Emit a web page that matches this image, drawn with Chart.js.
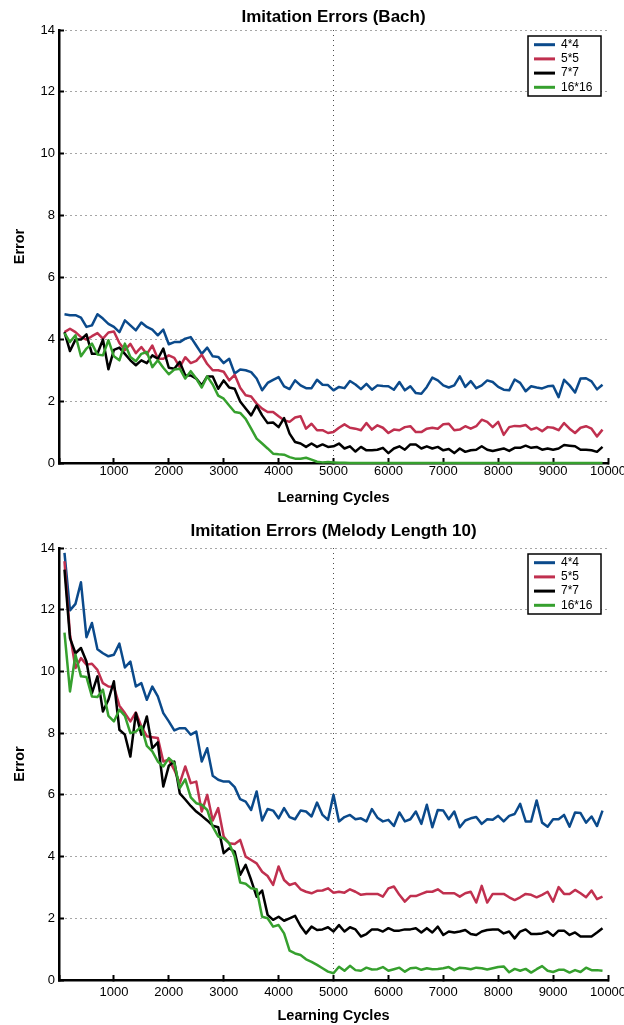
<!DOCTYPE html>
<html>
<head>
<meta charset="utf-8">
<script src="https://cdn.jsdelivr.net/npm/chart.js@4.4.1/dist/chart.umd.min.js"></script>
<style>
  body { margin: 0; background: #fff; }
  .panel { position: relative; width: 624px; }
  #bachBox { height: 512px; }
  #melodyBox { height: 513px; }
</style>
</head>
<body>
<div class="panel" id="bachBox"><canvas id="bach"></canvas></div>
<div class="panel" id="melodyBox"><canvas id="melody"></canvas></div>
<script>
const FONT = "'Liberation Sans', Arial, sans-serif";

// learning cycles at which the error was sampled
const cycles = [
  100, 200, 300, 400, 500, 600, 700, 800, 900, 1000,
  1100, 1200, 1300, 1400, 1500, 1600, 1700, 1800, 1900, 2000,
  2100, 2200, 2300, 2400, 2500, 2600, 2700, 2800, 2900, 3000,
  3100, 3200, 3300, 3400, 3500, 3600, 3700, 3800, 3900, 4000,
  4100, 4200, 4300, 4400, 4500, 4600, 4700, 4800, 4900, 5000,
  5100, 5200, 5300, 5400, 5500, 5600, 5700, 5800, 5900, 6000,
  6100, 6200, 6300, 6400, 6500, 6600, 6700, 6800, 6900, 7000,
  7100, 7200, 7300, 7400, 7500, 7600, 7700, 7800, 7900, 8000,
  8100, 8200, 8300, 8400, 8500, 8600, 8700, 8800, 8900, 9000,
  9100, 9200, 9300, 9400, 9500, 9600, 9700, 9800, 9900
];

const sizes = ["4*4", "5*5", "7*7", "16*16"];
const colors = ["#0b4a8b", "#c0304f", "#000000", "#36a02e"];

const xTicks = [0, 1000, 2000, 3000, 4000, 5000, 6000, 7000, 8000, 9000, 10000];
const yTicks = [0, 2, 4, 6, 8, 10, 12, 14];

// Imitation errors, Bach
const bach4 = [
  4.81, 4.78, 4.78, 4.70, 4.40, 4.45, 4.81, 4.67, 4.50, 4.40,
  4.23, 4.61, 4.45, 4.29, 4.54, 4.40, 4.31, 4.13, 4.31, 3.84,
  3.91, 3.91, 4.02, 4.07, 3.80, 3.53, 3.73, 3.45, 3.43, 3.23,
  3.37, 2.89, 3.02, 3.00, 2.94, 2.73, 2.35, 2.59, 2.69, 2.78,
  2.48, 2.39, 2.67, 2.51, 2.42, 2.42, 2.69, 2.53, 2.52, 2.35,
  2.46, 2.42, 2.65, 2.54, 2.39, 2.56, 2.37, 2.51, 2.49, 2.48,
  2.37, 2.62, 2.35, 2.48, 2.26, 2.24, 2.46, 2.76, 2.67, 2.51,
  2.44, 2.51, 2.80, 2.46, 2.65, 2.42, 2.51, 2.67, 2.62, 2.46,
  2.37, 2.35, 2.70, 2.59, 2.32, 2.48, 2.44, 2.41, 2.48, 2.50,
  2.13, 2.69, 2.51, 2.28, 2.73, 2.74, 2.64, 2.38, 2.53
];
const bach5 = [
  4.23, 4.34, 4.23, 4.07, 3.99, 4.10, 4.20, 4.02, 4.22, 4.25,
  3.88, 3.65, 3.85, 3.55, 3.75, 3.52, 3.80, 3.37, 3.37, 3.48,
  3.40, 3.10, 3.42, 3.23, 3.30, 3.50, 3.20, 3.00, 3.00, 2.95,
  2.67, 2.85, 2.43, 2.19, 2.15, 1.92, 1.76, 1.65, 1.65, 1.51,
  1.38, 1.33, 1.47, 1.51, 1.11, 1.27, 1.06, 1.06, 0.97, 1.00,
  1.14, 1.25, 1.14, 1.11, 1.06, 1.29, 1.08, 1.22, 1.14, 0.97,
  1.08, 1.06, 1.16, 1.19, 1.00, 1.00, 1.11, 1.14, 1.11, 1.25,
  1.27, 1.06, 1.08, 1.19, 1.11, 1.19, 1.40, 1.33, 1.16, 1.33,
  0.91, 1.16, 1.20, 1.19, 1.23, 1.08, 1.14, 1.03, 1.16, 1.14,
  1.06, 1.29, 1.11, 0.97, 1.14, 1.19, 1.11, 0.86, 1.08
];
const bach7 = [
  4.23, 3.62, 3.99, 3.99, 4.16, 3.53, 3.53, 3.99, 3.03, 3.66,
  3.73, 3.53, 3.32, 3.16, 3.32, 3.23, 3.48, 3.37, 3.70, 3.08,
  3.05, 3.27, 2.83, 2.83, 2.73, 2.51, 2.80, 2.80, 2.40, 2.67,
  2.44, 2.40, 1.99, 1.76, 1.54, 1.86, 1.54, 1.29, 1.31, 1.16,
  1.45, 0.95, 0.68, 0.63, 0.52, 0.63, 0.52, 0.60, 0.52, 0.54,
  0.63, 0.47, 0.54, 0.37, 0.52, 0.41, 0.41, 0.43, 0.49, 0.32,
  0.47, 0.54, 0.43, 0.60, 0.60, 0.47, 0.54, 0.47, 0.52, 0.41,
  0.45, 0.32, 0.47, 0.36, 0.41, 0.43, 0.54, 0.43, 0.39, 0.43,
  0.47, 0.39, 0.49, 0.49, 0.56, 0.49, 0.52, 0.43, 0.47, 0.43,
  0.47, 0.58, 0.56, 0.54, 0.43, 0.43, 0.41, 0.36, 0.52
];
const bach16 = [
  4.20, 3.91, 4.13, 3.45, 3.70, 3.86, 3.51, 3.48, 3.97, 3.45,
  3.32, 3.86, 3.43, 3.29, 3.53, 3.59, 3.10, 3.32, 3.08, 2.87,
  3.02, 3.05, 2.73, 2.97, 2.73, 2.44, 2.80, 2.54, 2.18, 2.08,
  1.86, 1.65, 1.62, 1.43, 1.11, 0.79, 0.63, 0.47, 0.30, 0.28,
  0.27, 0.19, 0.14, 0.14, 0.17, 0.11, 0.04, 0.02, 0.03, 0.02,
  0.01, 0.01, 0, 0, 0, 0, 0, 0, 0, 0,
  0, 0, 0, 0, 0, 0, 0, 0, 0, 0,
  0, 0, 0, 0, 0, 0, 0, 0, 0, 0,
  0, 0, 0, 0, 0, 0, 0, 0, 0, 0,
  0, 0, 0, 0, 0, 0, 0, 0, 0
];

// Imitation errors, melody length 10
const melody4 = [
  13.84, 11.98, 12.19, 12.89, 11.11, 11.57, 10.72, 10.59, 10.49, 10.54,
  10.90, 10.13, 10.32, 9.51, 9.62, 9.08, 9.51, 9.19, 8.65, 8.38,
  8.09, 8.16, 8.16, 7.95, 8.05, 7.08, 7.51, 6.62, 6.49, 6.43,
  6.43, 6.25, 5.86, 5.78, 5.51, 6.11, 5.17, 5.54, 5.49, 5.24,
  5.57, 5.28, 5.21, 5.49, 5.46, 5.30, 5.75, 5.35, 5.19, 6.00,
  5.14, 5.28, 5.35, 5.21, 5.24, 5.14, 5.54, 5.26, 5.14, 5.19,
  4.99, 5.43, 5.14, 5.21, 5.46, 5.06, 5.68, 4.95, 5.51, 5.49,
  5.21, 5.46, 4.95, 5.17, 5.24, 5.28, 5.06, 5.21, 5.19, 5.32,
  5.14, 5.32, 5.38, 5.71, 5.14, 5.14, 5.82, 5.10, 4.97, 5.21,
  5.21, 5.35, 4.97, 5.43, 5.41, 5.10, 5.30, 4.99, 5.49
];
const melody5 = [
  13.57, 11.20, 10.11, 10.43, 10.22, 10.25, 10.05, 9.62, 9.51, 9.50,
  8.89, 8.65, 8.38, 8.67, 8.22, 7.90, 7.87, 7.84, 7.08, 7.14,
  6.81, 6.38, 6.92, 6.38, 6.43, 5.46, 6.00, 5.17, 5.57, 4.65,
  4.43, 4.41, 4.54, 4.00, 3.89, 3.78, 3.51, 3.37, 3.08, 3.68,
  3.24, 3.08, 3.14, 2.94, 2.86, 2.81, 2.89, 2.90, 2.97, 2.83,
  2.86, 2.83, 2.94, 2.86, 2.76, 2.79, 2.79, 2.79, 2.70, 2.97,
  3.03, 2.76, 2.54, 2.72, 2.72, 2.79, 2.86, 2.86, 2.94, 2.81,
  2.81, 2.81, 2.70, 2.81, 2.86, 2.51, 3.05, 2.51, 2.79, 2.79,
  2.79, 2.68, 2.59, 2.68, 2.79, 2.76, 2.68, 2.76, 2.86, 2.54,
  3.01, 2.79, 2.79, 2.92, 2.81, 2.68, 2.90, 2.62, 2.70
];
const melody7 = [
  13.30, 11.08, 10.59, 10.76, 10.32, 9.30, 9.84, 8.70, 9.08, 9.68,
  8.11, 7.95, 7.24, 8.65, 7.95, 8.54, 7.51, 7.70, 6.27, 6.94,
  7.08, 6.05, 5.85, 5.64, 5.46, 5.32, 5.17, 5.00, 4.95, 4.11,
  4.27, 4.16, 3.41, 3.73, 3.24, 2.70, 2.90, 2.11, 1.95, 2.05,
  1.92, 2.00, 2.08, 1.75, 1.51, 1.73, 1.62, 1.64, 1.71, 1.57,
  1.78, 1.57, 1.71, 1.64, 1.41, 1.49, 1.64, 1.64, 1.57, 1.68,
  1.60, 1.60, 1.64, 1.64, 1.68, 1.54, 1.68, 1.54, 1.73, 1.46,
  1.57, 1.54, 1.57, 1.62, 1.49, 1.46, 1.57, 1.62, 1.64, 1.64,
  1.51, 1.57, 1.35, 1.57, 1.64, 1.49, 1.49, 1.51, 1.57, 1.43,
  1.60, 1.60, 1.46, 1.54, 1.41, 1.41, 1.41, 1.54, 1.68
];
const melody16 = [
  11.26, 9.35, 10.54, 9.84, 9.82, 9.19, 9.17, 9.41, 8.56, 8.38,
  8.76, 8.56, 8.00, 8.05, 8.22, 7.59, 7.41, 7.08, 6.92, 7.19,
  7.03, 6.22, 6.50, 5.92, 5.73, 5.68, 5.51, 4.97, 4.65, 4.59,
  4.43, 4.00, 3.16, 3.12, 2.97, 2.94, 2.05, 2.00, 1.73, 1.78,
  1.51, 0.95, 0.86, 0.81, 0.67, 0.59, 0.49, 0.38, 0.27, 0.22,
  0.43, 0.30, 0.46, 0.32, 0.30, 0.40, 0.34, 0.35, 0.42, 0.30,
  0.35, 0.40, 0.27, 0.38, 0.40, 0.33, 0.38, 0.35, 0.36, 0.38,
  0.42, 0.32, 0.40, 0.38, 0.35, 0.40, 0.38, 0.34, 0.38, 0.42,
  0.44, 0.25, 0.36, 0.30, 0.36, 0.24, 0.35, 0.45, 0.30, 0.26,
  0.33, 0.33, 0.24, 0.32, 0.26, 0.40, 0.32, 0.32, 0.30
];

// boxed legend in the upper right corner of the plot
const boxLegend = {
  id: 'boxLegend',
  afterDatasetsDraw(chart) {
    const { ctx, chartArea } = chart;
    const w = 73, h = 60, rowH = 14.2;
    const x0 = chartArea.right - 7 - w;
    const y0 = chartArea.top + 6;
    ctx.save();
    ctx.fillStyle = '#fff';
    ctx.fillRect(x0, y0, w, h);
    ctx.lineWidth = 1.5;
    ctx.strokeStyle = '#000';
    ctx.strokeRect(x0, y0, w, h);
    ctx.font = '12px ' + FONT;
    ctx.textBaseline = 'middle';
    chart.data.datasets.forEach((ds, i) => {
      const y = y0 + 8.7 + i * rowH;
      ctx.strokeStyle = ds.borderColor;
      ctx.lineWidth = 3;
      ctx.beginPath();
      ctx.moveTo(x0 + 6, y);
      ctx.lineTo(x0 + 27, y);
      ctx.stroke();
      ctx.fillStyle = '#000';
      ctx.fillText(ds.label, x0 + 33, y);
    });
    ctx.restore();
  }
};

const GRID = 'rgba(0,0,0,0.7)';

function buildChart(id, title, series, geo) {
  return new Chart(document.getElementById(id), {
    type: 'line',
    data: {
      datasets: series.map((vals, i) => ({
        label: sizes[i],
        data: vals.map((v, k) => ({ x: cycles[k], y: v })),
        borderColor: colors[i],
        backgroundColor: colors[i],
        borderWidth: 2.5,
        borderJoinStyle: 'round',
        pointRadius: 0,
        tension: 0,
        clip: false,
        order: series.length - i,
      })),
    },
    options: {
      animation: false,
      responsive: true,
      maintainAspectRatio: false,
      devicePixelRatio: 1,
      layout: { padding: { left: 0, right: 16, top: 0, bottom: 0 } },
      plugins: {
        legend: { display: false },
        tooltip: { enabled: false },
        title: {
          display: true,
          text: title,
          fullSize: false,
          color: '#000',
          font: { family: FONT, size: 17, weight: 'bold', lineHeight: 1.2 },
          padding: { top: geo.titleTop, bottom: geo.titleBottom },
        },
      },
      scales: {
        x: {
          type: 'linear',
          min: xTicks[0],
          max: xTicks[xTicks.length - 1],
          afterFit(s) { s.height = geo.xHeight; s.paddingLeft = 0; s.paddingRight = 0; },
          ticks: {
            stepSize: 1000,
            autoSkip: false,
            maxRotation: 0,
            padding: geo.xTickPad,
            color: '#000',
            font: { family: FONT, size: 13 },
            callback: v => (v === 0 ? '' : String(v)),
          },
          grid: {
            color: c => (c.tick && c.tick.value === 5000 ? GRID : 'transparent'),
            lineWidth: 1,
            tickLength: -5,
            tickColor: '#000',
            tickWidth: 2,
            tickBorderDash: [],
          },
          border: { display: true, color: '#000', width: 2.5, dash: [1, 4] },
          title: {
            display: true,
            text: 'Learning Cycles',
            color: '#000',
            font: { family: FONT, size: 14.5, weight: 'bold' },
            padding: { top: 0, bottom: geo.xTitlePad },
          },
        },
        y: {
          min: yTicks[0],
          max: yTicks[yTicks.length - 1],
          afterFit(s) { s.width = 59; s.paddingTop = 0; s.paddingBottom = 0; },
          ticks: {
            stepSize: 2,
            padding: 9,
            color: '#000',
            font: { family: FONT, size: 13 },
          },
          grid: {
            color: c => (c.tick && c.tick.value === 0 ? 'transparent' : GRID),
            lineWidth: 1,
            tickLength: -5,
            tickColor: '#000',
            tickWidth: 2,
            tickBorderDash: [],
          },
          border: { display: true, color: '#000', width: 2.5, dash: [1, 4] },
          title: {
            display: true,
            text: 'Error',
            color: '#000',
            font: { family: FONT, size: 14.5, weight: 'bold' },
            padding: { top: 11, bottom: 0 },
          },
        },
      },
    },
    plugins: [boxLegend],
  });
}

buildChart('bach', 'Imitation Errors (Bach)', [bach4, bach5, bach7, bach16],
  { titleTop: 7, titleBottom: 2.6, xHeight: 49, xTickPad: 6, xTitlePad: 5.3 });

buildChart('melody', 'Imitation Errors (Melody Length 10)', [melody4, melody5, melody7, melody16],
  { titleTop: 9.3, titleBottom: 6.3, xHeight: 45, xTickPad: 9.5, xTitlePad: 0 });
</script>
</body>
</html>
